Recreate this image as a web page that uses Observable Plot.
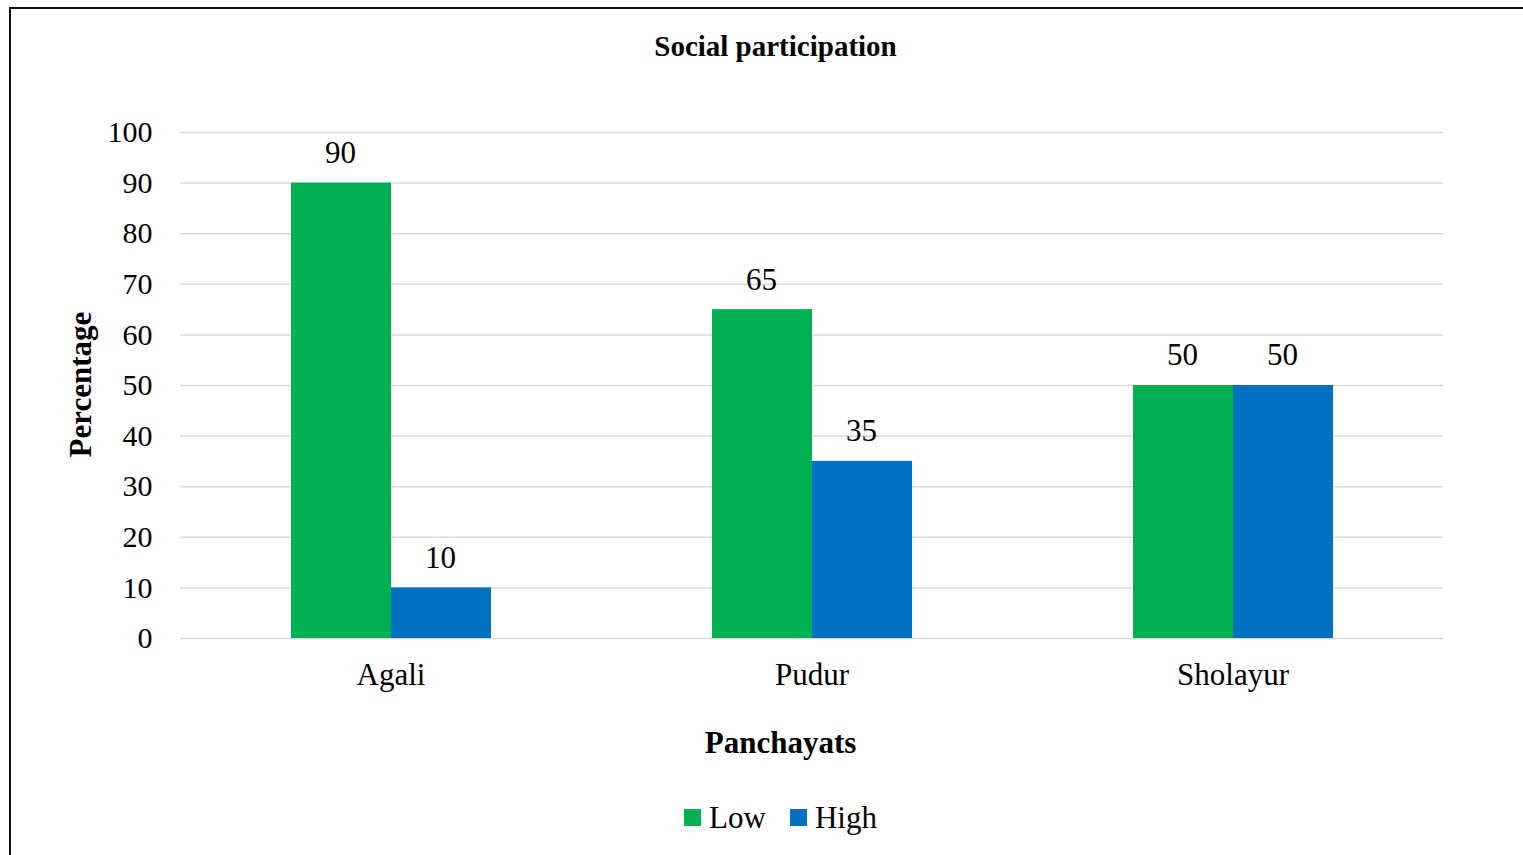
<!DOCTYPE html>
<html>
<head>
<meta charset="utf-8">
<script src="https://cdn.jsdelivr.net/npm/d3@7"></script>
<script src="https://cdn.jsdelivr.net/npm/@observablehq/plot@0.6"></script>
<style>
  html, body { margin: 0; padding: 0; background: #fff; }
  body { width: 1523px; height: 855px; overflow: hidden; position: relative;
         font-family: "Liberation Serif", "Times New Roman", serif; color: #000; }
  .abs { position: absolute; }
  #title { top: 32px; left: 0; width: 1551px; text-align: center; font-weight: bold;
           font-size: 29px; line-height: 29px; }
  #xlabel { top: 727px; left: 0; width: 1561px; text-align: center; font-weight: bold;
            font-size: 31px; line-height: 31px; }
  #ylabel { top: 369px; left: -70px; width: 300px; text-align: center; font-weight: bold;
            font-size: 31px; line-height: 31px; transform: rotate(-90deg); }
  #legend { top: 802px; left: 0; width: 1561px; display: flex; justify-content: center;
            align-items: center; font-size: 31px; line-height: 31px; }
  .sw { width: 17px; height: 17px; display: inline-block; margin-right: 8px; }
  .item { display: flex; align-items: center; margin: 0 12px; }
  #frame { left: 9px; top: 7px; width: 1600px; height: 900px; border: 2px solid #111; }
  #chart { top: 0; left: 0; }
</style>
</head>
<body>
<div id="chart" class="abs"></div>
<div id="title" class="abs"></div>
<div id="xlabel" class="abs"></div>
<div id="ylabel" class="abs"></div>
<div id="legend" class="abs"></div>
<div id="frame" class="abs"></div>
<script>
const titleText = "Social participation";
const xTitle = "Panchayats";
const yTitle = "Percentage";
const categories = ["Agali", "Pudur", "Sholayur"];
const series = ["Low", "High"];
const lowValues = [90, 65, 50];
const highValues = [10, 35, 50];
const yTicks = [0, 10, 20, 30, 40, 50, 60, 70, 80, 90, 100];
const colors = ["#00B050", "#0070C0"];

const data = [];
categories.forEach((c, i) => {
  data.push({panchayat: c, series: series[0], value: lowValues[i]});
  data.push({panchayat: c, series: series[1], value: highValues[i]});
});

document.getElementById("title").textContent = titleText;
document.getElementById("xlabel").textContent = xTitle;
document.getElementById("ylabel").textContent = yTitle;
const legend = document.getElementById("legend");
series.forEach((s, i) => {
  const item = document.createElement("div");
  item.className = "item";
  const sw = document.createElement("span");
  sw.className = "sw";
  sw.style.background = colors[i];
  const t = document.createElement("span");
  t.textContent = s;
  item.appendChild(sw);
  item.appendChild(t);
  legend.appendChild(item);
});

const chart = Plot.plot({
  width: 1523,
  height: 700,
  marginLeft: 180,
  marginRight: 80,
  marginTop: 132,
  marginBottom: 62,
  style: {fontFamily: "'Liberation Serif', 'Times New Roman', serif", background: "transparent", color: "#000"},
  fx: {domain: categories, padding: 0, label: null},
  x: {domain: series, paddingInner: 0, paddingOuter: 1.105, axis: null},
  y: {domain: [0, 100], label: null},
  color: {domain: series, range: colors},
  marks: [
    Plot.ruleY(yTicks, {stroke: "#d9d9d9", strokeWidth: 1.5}),
    Plot.barY(data, {fx: "panchayat", x: "series", y: "value", fill: "series"}),
    Plot.text(data, {fx: "panchayat", x: "series", y: "value", text: d => String(d.value),
      dy: -30, dx: -1, lineAnchor: "middle", fontSize: 31, fill: "#000"}),
    Plot.axisY({ticks: yTicks, tickSize: 0, tickPadding: 28, fontSize: 30, label: null}),
    Plot.axisFx({anchor: "bottom", tickSize: 0, tickPadding: 24, fontSize: 31, label: null})
  ]
});
document.getElementById("chart").appendChild(chart);
</script>
</body>
</html>
